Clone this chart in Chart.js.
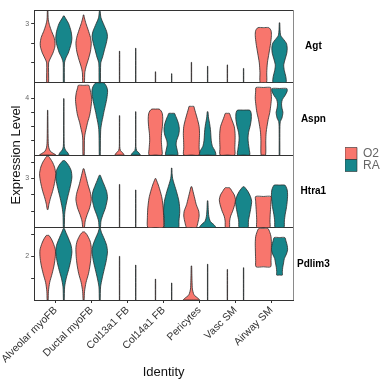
<!DOCTYPE html>
<html>
<head>
<meta charset="utf-8">
<script src="https://cdn.jsdelivr.net/npm/chart.js@4.4.1/dist/chart.umd.min.js"></script>
<style>
  html, body { margin: 0; padding: 0; background: #fff; }
</style>
</head>
<body>
<canvas id="violin-chart" width="384" height="384"></canvas>
<script>
/*global Chart*/

const cellTypes = ["Alveolar myoFB", "Ductal myoFB", "Col13a1 FB", "Col14a1 FB", "Pericytes", "Vasc SM", "Airway SM"];
const groups = ["O2", "RA"];
const genes = ["Agt", "Aspn", "Htra1", "Pdlim3"];
const geneMin = [0, 0, 1.5, 1.0];
const geneMax = [3.7, 5.1, 3.72, 2.66];
const geneTicks = [[1, 2, 3], [1, 2, 3, 4], [2, 2.5, 3, 3.5], [1.5, 2, 2.5]];
const geneTickLabel = [3, 4, 3, 2];

// violin outlines, one per cell type: [expression, relative width], bottom to top
const agtO2 = [
  [[0, 0.12], [1.0, 0.12], [1.2, 0.3], [1.5, 0.65], [1.8, 0.88], [2.0, 0.92], [2.3, 0.8], [2.6, 0.5], [2.9, 0.25], [3.2, 0.08], [3.7, 0.03]],
  [[0, 0.1], [0.5, 0.15], [0.8, 0.3], [1.2, 0.6], [1.6, 0.85], [2.0, 0.95], [2.3, 0.85], [2.7, 0.55], [3.0, 0.3], [3.3, 0.1], [3.45, 0.03]],
  [[0, 0.02], [1.6, 0.02]],
  [[0, 0.02], [0.55, 0.02]],
  [[0, 0.02], [1.03, 0.02]],
  [[0, 0.02], [0.9, 0.02]],
  [[0, 0.4], [0.5, 0.42], [1.0, 0.5], [1.5, 0.7], [2.0, 0.9], [2.4, 1.0], [2.65, 0.95], [2.8, 0.67]]
];
const agtRA = [
  [[0, 0.06], [1.0, 0.08], [1.25, 0.25], [1.5, 0.55], [1.75, 0.75], [2.0, 0.92], [2.25, 1.0], [2.6, 0.9], [3.0, 0.6], [3.25, 0.25], [3.4, 0.04]],
  [[0, 0.08], [1.0, 0.12], [1.3, 0.35], [1.7, 0.6], [2.0, 0.8], [2.35, 0.95], [2.6, 0.85], [3.0, 0.45], [3.3, 0.15], [3.7, 0.03]],
  [[0, 0.02], [1.75, 0.02]],
  [[0, 0.02], [0.45, 0.02]],
  [[0, 0.02], [0.83, 0.02]],
  [[0, 0.02], [0.72, 0.02]],
  [[0, 0.8], [0.3, 0.78], [0.6, 0.6], [0.9, 0.52], [1.2, 0.7], [1.5, 0.9], [1.75, 0.95], [2.0, 0.85], [2.2, 0.5], [2.4, 0.15], [2.7, 0.06], [3.05, 0.03]]
];
const aspnO2 = [
  [[0, 1.0], [0.1, 0.75], [0.25, 0.35], [0.5, 0.15], [0.8, 0.08], [1.5, 0.05], [3.15, 0.02]],
  [[0, 0.08], [1.0, 0.1], [1.4, 0.15], [1.8, 0.3], [2.3, 0.5], [2.8, 0.75], [3.3, 0.9], [3.9, 1.0], [4.4, 0.9], [4.7, 0.75], [4.9, 0.65]],
  [[0, 0.55], [0.15, 0.4], [0.3, 0.12], [0.6, 0.03], [2.77, 0.02]],
  [[0, 0.8], [0.5, 0.78], [1.0, 0.72], [1.5, 0.75], [2.0, 0.85], [2.5, 0.9], [2.9, 0.85], [3.1, 0.7], [3.23, 0.45]],
  [[0, 0.95], [0.5, 0.95], [1.0, 0.97], [1.5, 1.0], [2.0, 0.95], [2.5, 0.75], [3.0, 0.5], [3.3, 0.35], [3.42, 0.3]],
  [[0, 0.9], [0.5, 0.92], [1.0, 0.95], [1.5, 0.95], [2.0, 0.85], [2.4, 0.6], [2.7, 0.4], [2.93, 0.25]],
  [[0, 0.28], [1.0, 0.3], [1.6, 0.35], [2.0, 0.45], [2.5, 0.6], [3.0, 0.8], [3.5, 0.92], [4.0, 1.0], [4.5, 0.95], [4.75, 0.9]]
];
const aspnRA = [
  [[0, 0.6], [0.15, 0.5], [0.35, 0.2], [0.6, 0.06], [1.5, 0.03], [3.97, 0.02]],
  [[0, 0.06], [1.0, 0.08], [1.8, 0.12], [2.3, 0.25], [2.7, 0.4], [3.0, 0.5], [3.5, 0.7], [4.0, 0.88], [4.5, 0.97], [4.8, 0.85], [5.08, 0.5]],
  [[0, 0.55], [0.15, 0.4], [0.3, 0.12], [0.6, 0.03], [3.05, 0.02]],
  [[0, 0.75], [0.3, 0.7], [0.7, 0.55], [1.0, 0.6], [1.4, 0.85], [1.8, 0.95], [2.2, 0.85], [2.6, 0.6], [2.8, 0.45], [2.93, 0.35]],
  [[0, 1.0], [0.3, 0.9], [0.6, 0.6], [1.0, 0.45], [1.4, 0.4], [1.8, 0.35], [2.2, 0.25], [2.6, 0.12], [3.05, 0.04]],
  [[0, 0.75], [0.4, 0.7], [0.8, 0.6], [1.2, 0.55], [1.6, 0.62], [2.0, 0.8], [2.5, 0.95], [2.9, 0.95], [3.1, 0.85], [3.16, 0.7]],
  [[0, 0.04], [1.0, 0.04], [2.0, 0.05], [2.35, 0.1], [2.6, 0.3], [3.0, 0.42], [3.3, 0.3], [3.6, 0.25], [3.9, 0.35], [4.2, 0.7], [4.5, 0.95], [4.68, 0.9]]
];
const htra1O2 = [
  [[2.05, 0.05], [2.2, 0.15], [2.4, 0.35], [2.6, 0.6], [2.8, 0.8], [3.0, 0.95], [3.15, 1.0], [3.35, 0.85], [3.5, 0.6], [3.6, 0.35], [3.68, 0.12]],
  [[1.5, 0.1], [1.7, 0.2], [1.9, 0.45], [2.1, 0.75], [2.35, 0.95], [2.55, 0.85], [2.8, 0.55], [3.0, 0.35], [3.2, 0.15], [3.3, 0.05]],
  [[1.5, 0.02], [2.82, 0.02]],
  [[1.5, 0.95], [1.8, 1.0], [2.1, 0.95], [2.4, 0.8], [2.6, 0.6], [2.8, 0.35], [2.95, 0.12], [3.0, 0.04]],
  [[1.5, 0.6], [1.65, 0.8], [1.85, 0.95], [2.0, 0.9], [2.2, 0.6], [2.4, 0.4], [2.6, 0.2], [2.75, 0.05]],
  [[1.5, 0.25], [1.7, 0.28], [1.85, 0.4], [2.0, 0.65], [2.2, 0.9], [2.35, 1.0], [2.5, 0.85], [2.6, 0.6], [2.68, 0.4], [2.72, 0.25]],
  [[1.5, 0.8], [1.7, 0.82], [1.9, 0.85], [2.1, 0.9], [2.3, 0.95], [2.45, 0.95]]
];
const htra1RA = [
  [[1.5, 0.06], [1.9, 0.1], [2.1, 0.2], [2.4, 0.45], [2.7, 0.75], [2.9, 0.92], [3.05, 1.0], [3.25, 0.9], [3.4, 0.6], [3.5, 0.3], [3.55, 0.1]],
  [[1.5, 0.08], [1.7, 0.15], [1.9, 0.4], [2.1, 0.7], [2.4, 0.95], [2.6, 0.85], [2.8, 0.55], [2.95, 0.3], [3.1, 0.06]],
  [[1.5, 0.02], [2.65, 0.02]],
  [[1.5, 0.85], [1.7, 0.9], [2.0, 1.0], [2.3, 0.9], [2.6, 0.6], [2.8, 0.35], [3.0, 0.12], [3.15, 0.05], [3.32, 0.03]],
  [[1.5, 1.0], [1.58, 0.8], [1.68, 0.35], [1.78, 0.2], [1.9, 0.12], [2.05, 0.08], [2.32, 0.03]],
  [[1.5, 0.55], [1.7, 0.6], [1.9, 0.75], [2.1, 0.9], [2.3, 1.0], [2.45, 0.85], [2.6, 0.55], [2.7, 0.25], [2.75, 0.08]],
  [[1.5, 0.55], [1.7, 0.6], [1.9, 0.7], [2.1, 0.85], [2.3, 0.95], [2.5, 1.0], [2.65, 0.95], [2.75, 0.8], [2.8, 0.65]]
];
const pdlim3O2 = [
  [[1.0, 0.06], [1.2, 0.1], [1.4, 0.25], [1.6, 0.55], [1.8, 0.8], [2.0, 0.95], [2.15, 0.95], [2.3, 0.7], [2.4, 0.45], [2.48, 0.15]],
  [[1.0, 0.06], [1.2, 0.12], [1.4, 0.3], [1.6, 0.6], [1.8, 0.8], [2.0, 0.92], [2.2, 0.95], [2.35, 0.8], [2.5, 0.4], [2.56, 0.1]],
  [[1.0, 0.02], [2.0, 0.02]],
  [[1.0, 0.02], [1.48, 0.02]],
  [[1.0, 1.0], [1.05, 0.75], [1.1, 0.4], [1.15, 0.25], [1.25, 0.12], [1.4, 0.08], [1.6, 0.05], [1.78, 0.03]],
  [[1.0, 0.02], [1.7, 0.02]],
  [[1.76, 0.9], [1.9, 0.95], [2.1, 0.98], [2.3, 1.0], [2.45, 0.95], [2.55, 0.8], [2.64, 0.55]]
];
const pdlim3RA = [
  [[1.0, 0.05], [1.3, 0.1], [1.5, 0.3], [1.7, 0.6], [1.9, 0.85], [2.1, 1.0], [2.25, 0.9], [2.4, 0.6], [2.55, 0.25], [2.64, 0.05]],
  [[1.0, 0.05], [1.3, 0.1], [1.5, 0.3], [1.7, 0.55], [1.9, 0.8], [2.1, 0.95], [2.25, 0.85], [2.4, 0.55], [2.55, 0.2], [2.66, 0.03]],
  [[1.0, 0.02], [1.8, 0.02]],
  [[1.0, 0.02], [1.39, 0.02]],
  [[1.0, 0.02], [1.82, 0.02]],
  [[1.0, 0.02], [1.74, 0.02]],
  [[1.57, 0.35], [1.65, 0.35], [1.75, 0.4], [1.85, 0.5], [1.95, 0.6], [2.05, 0.85], [2.15, 1.0], [2.25, 0.95], [2.35, 0.8], [2.43, 0.65]]
];

const violinTable = [[agtO2, agtRA], [aspnO2, aspnRA], [htra1O2, htra1RA], [pdlim3O2, pdlim3RA]];

const groupColors = ["#F8766D", "#17868B"];
const outline = "#2b2b2b";
const fontFamily = "'Liberation Sans', Arial, sans-serif";
// dodge width 0.9 split over two groups
const maxHalfWidth = 0.225;

// one side of a violin, closed back to the centre line at both ends
function edgePoints(profile, center, side) {
  const pts = profile.map(([v, w]) => ({ x: center + side * w * maxHalfWidth, y: v }));
  const bottom = profile[0][0];
  const top = profile[profile.length - 1][0];
  return [{ x: center, y: bottom }, ...pts, { x: center, y: top }];
}

const datasets = [];
genes.forEach((gene, g) => {
  violinTable[g].forEach((groupProfiles, k) => {
    groupProfiles.forEach((profile, c) => {
      const center = c + 1 + (k === 0 ? -maxHalfWidth : maxHalfWidth);
      const common = {
        label: groups[k],
        xAxisID: "x",
        yAxisID: "y" + gene,
        borderColor: outline,
        borderWidth: 0.8,
        backgroundColor: groupColors[k],
        pointRadius: 0,
        pointHoverRadius: 0,
        tension: 0.25,
      };
      datasets.push({ ...common, data: edgePoints(profile, center, -1), fill: false });
      datasets.push({ ...common, data: edgePoints(profile, center, 1), fill: "-1" });
    });
  });
});

const scales = {
  x: {
    type: "linear",
    position: "bottom",
    min: 0.4,
    max: 7.6,
    afterBuildTicks: (s) => {
      s.ticks = cellTypes.map((_, i) => ({ value: i + 1 })).concat([{ value: 7.6 }]);
    },
    afterFit: (s) => { s.height = 84; },
    ticks: {
      autoSkip: false,
      maxRotation: 45,
      minRotation: 45,
      padding: 1,
      color: "#333",
      font: { family: fontFamily, size: 10.5 },
      callback: (v) => cellTypes[v - 1] || "",
    },
    grid: {
      drawOnChartArea: true,
      tickLength: 3,
      color: (ctx) => (ctx.tick && ctx.tick.value === 7.6 ? "#8a8a8a" : "transparent"),
      tickColor: (ctx) => (ctx.tick && ctx.tick.value === 7.6 ? "transparent" : "#333"),
    },
    border: { display: true, color: "#333", width: 1 },
    title: {
      display: true,
      text: "Identity",
      color: "#111",
      font: { family: fontFamily, size: 13 },
      padding: { top: 0, bottom: 4 },
    },
  },
  // full-height axis that only carries the shared y title
  yTitle: {
    type: "linear",
    position: "left",
    weight: 10,
    min: 0,
    max: 1,
    afterFit: (s) => { s.width = 18; },
    ticks: { display: false },
    grid: { display: false, drawTicks: false },
    border: { display: false },
    title: {
      display: true,
      text: "Expression Level",
      color: "#111",
      font: { family: fontFamily, size: 13 },
      padding: { top: 2, bottom: 0 },
    },
  },
  // gene names to the right of each panel
  strip: {
    type: "linear",
    position: "right",
    min: 0,
    max: genes.length,
    afterBuildTicks: (s) => {
      s.ticks = genes.map((_, g) => ({ value: genes.length - g - 0.5 }));
    },
    afterFit: (s) => { s.width = 52; },
    ticks: {
      crossAlign: "center",
      padding: 4,
      color: "#000",
      font: { family: fontFamily, size: 10, weight: "bold" },
      callback: (v) => genes[genes.length - 0.5 - v],
    },
    grid: { display: false, drawTicks: false },
    border: { display: false },
  },
};

genes.forEach((gene, g) => {
  scales["y" + gene] = {
    type: "linear",
    position: "left",
    stack: "genes",
    stackWeight: 1,
    weight: genes.length - g,
    offset: false,
    min: geneMin[g],
    max: geneMax[g],
    afterBuildTicks: (s) => {
      s.ticks = geneTicks[g].map((v) => ({ value: v })).concat([{ value: geneMax[g] }]);
    },
    afterFit: (s) => { s.width = 10; },
    ticks: {
      padding: 2,
      color: "#666",
      font: { family: fontFamily, size: 7 },
      callback: (v) => (v === geneTickLabel[g] ? String(v) : ""),
    },
    grid: {
      drawOnChartArea: true,
      tickLength: 3,
      color: (ctx) => (ctx.tick && ctx.tick.value === geneMax[g] ? "#333" : "transparent"),
      tickColor: (ctx) => (ctx.tick && ctx.tick.value === geneMax[g] ? "transparent" : "#333"),
    },
    border: { display: true, color: "#333", width: 1 },
  };
});

const ctx = document.getElementById("violin-chart").getContext("2d");

new Chart(ctx, {
  type: "line",
  data: { datasets: datasets },
  options: {
    responsive: false,
    animation: false,
    indexAxis: "y",
    events: [],
    layout: { padding: { top: 6, right: 0, bottom: 0, left: 0 } },
    scales: scales,
    plugins: {
      tooltip: { enabled: false },
      legend: {
        position: "right",
        align: "center",
        fullSize: false,
        maxWidth: 39,
        onClick: () => {},
        // empty title only nudges the keys down a little
        title: { display: true, text: "", font: { size: 6, lineHeight: 1 }, padding: { top: 0, bottom: 3 } },
        labels: {
          boxWidth: 12,
          boxHeight: 12,
          padding: 0,
          color: "#111",
          font: { family: fontFamily, size: 12, lineHeight: 1 },
          generateLabels: () => groups.map((grp, k) => ({
            text: grp,
            fillStyle: groupColors[k],
            strokeStyle: outline,
            lineWidth: 0.6,
            hidden: false,
            datasetIndex: k,
          })),
        },
      },
    },
  },
});
</script>
</body>
</html>
